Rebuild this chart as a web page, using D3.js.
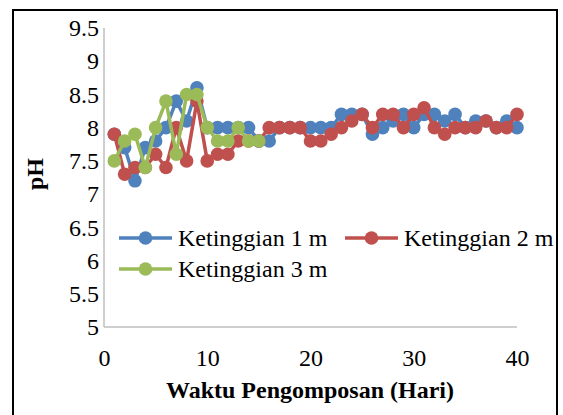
<!DOCTYPE html>
<html lang="id">
<head>
<meta charset="UTF-8">
<title>pH Pengomposan</title>
<script src="https://d3js.org/d3.v7.min.js"></script>
<style>
  body { margin: 0; background: #fff; }
  svg text { font-family: "Liberation Serif", "Times New Roman", serif !important; fill: #000; }
</style>
</head>
<body>
<svg id="chart" width="563" height="415"></svg>
<script>
// data (hari ke-, pH)
const days = d3.range(1, 41);
const seriesNames = ["Ketinggian 1 m", "Ketinggian 2 m", "Ketinggian 3 m"];
const ph1 = [7.9, 7.7, 7.2, 7.7, 7.8, 8.0, 8.4, 8.1, 8.6, 8.0,
             8.0, 8.0, 8.0, 8.0, 7.8, 7.8, 8.0, 8.0, 8.0, 8.0,
             8.0, 8.0, 8.2, 8.2, 8.2, 7.9, 8.0, 8.1, 8.2, 8.0,
             8.2, 8.2, 8.1, 8.2, 8.0, 8.1, 8.1, 8.0, 8.1, 8.0];
const ph2 = [7.9, 7.3, 7.4, 7.4, 7.6, 7.4, 8.0, 7.5, 8.4, 7.5,
             7.6, 7.6, 7.8, 7.8, 7.8, 8.0, 8.0, 8.0, 8.0, 7.8,
             7.8, 7.9, 8.0, 8.1, 8.2, 8.0, 8.2, 8.2, 8.0, 8.2,
             8.3, 8.0, 7.9, 8.0, 8.0, 8.0, 8.1, 8.0, 8.0, 8.2];
const ph3 = [7.5, 7.8, 7.9, 7.4, 8.0, 8.4, 7.6, 8.5, 8.5, 8.0,
             7.8, 7.8, 8.0, 7.8, 7.8];
const xTicks = [0, 10, 20, 30, 40];
const yTicks = [5, 5.5, 6, 6.5, 7, 7.5, 8, 8.5, 9, 9.5];
const colors = ["#4F81BD", "#C0504D", "#9BBB59"];

const svg = d3.select("#chart");

// bingkai luar
svg.append("rect")
    .attr("x", 13).attr("y", 10)
    .attr("width", 544).attr("height", 410)
    .attr("fill", "#fff").attr("stroke", "#000").attr("stroke-width", 2);

const x = d3.scaleLinear().domain([0, 40]).range([104, 517]);
const y = d3.scaleLinear().domain([5, 9.5]).range([327, 28]);

// sumbu
svg.append("line")
    .attr("x1", x(0)).attr("x2", x(0))
    .attr("y1", y(9.5)).attr("y2", y(5))
    .attr("stroke", "#BFBFBF").attr("stroke-width", 1.5);
svg.append("line")
    .attr("x1", x(0)).attr("x2", x(40))
    .attr("y1", y(5)).attr("y2", y(5))
    .attr("stroke", "#BFBFBF").attr("stroke-width", 1.5);

const yAxis = svg.append("g")
    .attr("transform", `translate(${x(0)},0)`)
    .call(d3.axisLeft(y).tickValues(yTicks).tickSize(0).tickPadding(5)
        .tickFormat(d => String(d)));
const xAxis = svg.append("g")
    .attr("transform", `translate(0,${y(5)})`)
    .call(d3.axisBottom(x).tickValues(xTicks).tickSize(0).tickPadding(22)
        .tickFormat(d => String(d)));
[xAxis, yAxis].forEach(g => {
    g.attr("font-family", null).attr("font-size", null);
    g.select(".domain").remove();
    g.selectAll("text")
        .style("font-family", "'Liberation Serif', serif")
        .style("font-size", "24px")
        .attr("fill", "#000");
});

// judul sumbu
svg.append("text")
    .attr("x", 310).attr("y", 398)
    .attr("text-anchor", "middle")
    .style("font-size", "24px").attr("font-weight", "bold")
    .text("Waktu Pengomposan (Hari)");
svg.append("text")
    .attr("transform", "translate(43,174) rotate(-90)")
    .attr("text-anchor", "middle")
    .style("font-size", "24px").attr("font-weight", "bold")
    .text("pH");

// garis & titik
const allSeries = [ph1, ph2, ph3];
const line = d3.line().x(d => x(d.day)).y(d => y(d.v));
allSeries.forEach((vals, i) => {
    const pts = vals.map((v, j) => ({ day: days[j], v: v }));
    const g = svg.append("g");
    g.append("path")
        .datum(pts)
        .attr("d", line)
        .attr("fill", "none")
        .attr("stroke", colors[i])
        .attr("stroke-width", 3.5)
        .attr("stroke-linejoin", "round");
    g.selectAll("circle")
        .data(pts)
        .enter().append("circle")
        .attr("cx", d => x(d.day))
        .attr("cy", d => y(d.v))
        .attr("r", 6.8)
        .attr("fill", colors[i]);
});

// legenda
const legendPos = [[119, 238], [345, 238], [119, 269]];
seriesNames.forEach((name, i) => {
    const [lx, ly] = legendPos[i];
    const g = svg.append("g").attr("transform", `translate(${lx},${ly})`);
    g.append("line")
        .attr("x1", 0).attr("x2", 53)
        .attr("y1", 0).attr("y2", 0)
        .attr("stroke", colors[i]).attr("stroke-width", 3.5);
    g.append("circle")
        .attr("cx", 26.5).attr("cy", 0).attr("r", 6.8)
        .attr("fill", colors[i]);
    g.append("text")
        .attr("x", 59).attr("y", 8)
        .style("font-size", "24px")
        .text(name);
});
</script>
</body>
</html>
